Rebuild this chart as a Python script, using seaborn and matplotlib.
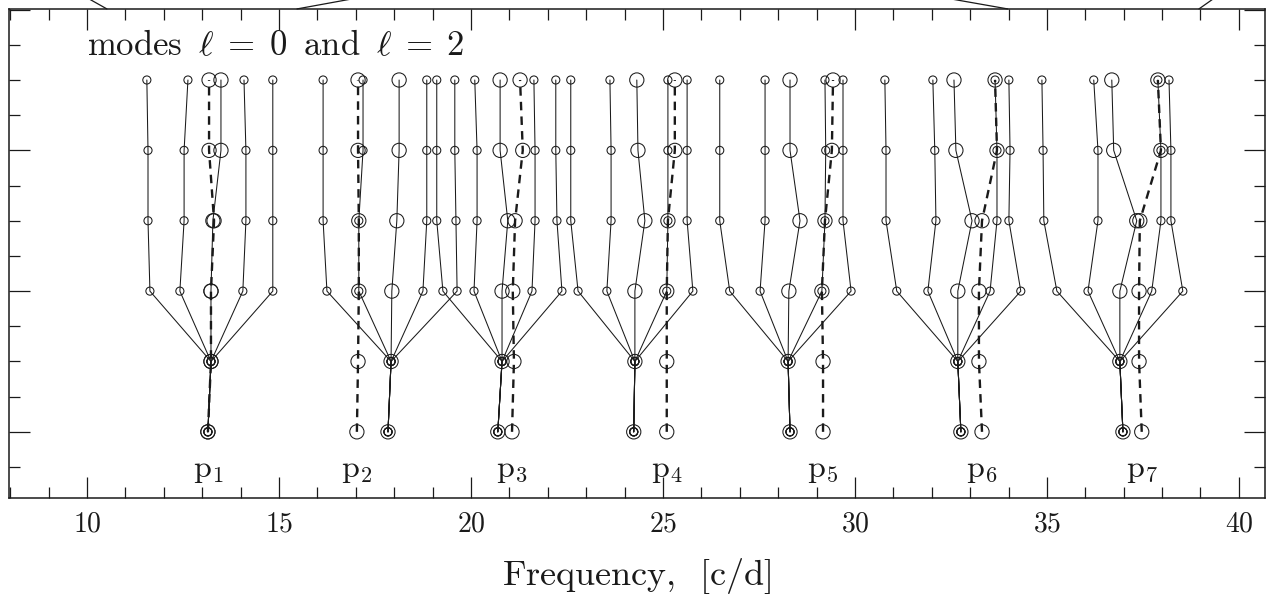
import matplotlib
matplotlib.use("Agg")
import matplotlib.pyplot as plt
from matplotlib.ticker import MultipleLocator, FuncFormatter, NullFormatter
import pandas as pd
import seaborn as sns

# Rotation levels: one row of the diagram per level
levels = [0, 10, 20, 30, 40, 50]

order_labels = [r"$\mathrm{p}_{%d}$" % n for n in range(1, 8)]

# l = 0 radial mode frequencies [c/d] at each level, one list per radial order
l0_freq = [
    [13.15, 13.23, 13.23, 13.31, 13.18, 13.18],
    [17.03, 17.06, 17.08, 17.08, 17.06, 17.06],
    [21.07, 21.12, 21.09, 21.15, 21.35, 21.28],
    [25.10, 25.10, 25.10, 25.13, 25.31, 25.31],
    [29.17, 29.17, 29.14, 29.22, 29.40, 29.43],
    [33.31, 33.23, 33.23, 33.31, 33.70, 33.65],
    [37.47, 37.40, 37.40, 37.42, 37.97, 37.89],
]

# l = 2 multiplet while still degenerate (first two levels)
l2_unsplit = [
    [13.15, 13.23],
    [17.84, 17.92],
    [20.70, 20.81],
    [24.24, 24.27],
    [28.31, 28.26],
    [32.76, 32.68],
    [36.98, 36.90],
]

# split l = 2 components at the four upper levels
l2_m_minus2 = [
    [11.64, 11.59, 11.59, 11.56],
    [16.25, 16.15, 16.15, 16.15],
    [19.27, 19.11, 19.11, 19.11],
    [22.79, 22.60, 22.60, 22.60],
    [26.74, 26.48, 26.48, 26.48],
    [31.09, 30.81, 30.81, 30.78],
    [35.26, 34.92, 34.90, 34.87],
]
l2_m_minus1 = [
    [12.42, 12.53, 12.53, 12.63],
    [17.08, 17.08, 17.19, 17.19],
    [20.08, 20.16, 20.16, 20.10],
    [23.54, 23.65, 23.65, 23.62],
    [27.53, 27.66, 27.66, 27.66],
    [31.90, 32.11, 32.08, 32.03],
    [36.07, 36.33, 36.33, 36.22],
]
l2_m_zero = [
    [13.23, 13.28, 13.49, 13.49],
    [17.94, 18.07, 18.13, 18.13],
    [20.81, 20.96, 20.76, 20.76],
    [24.27, 24.53, 24.35, 24.32],
    [28.28, 28.57, 28.31, 28.31],
    [32.68, 33.05, 32.63, 32.58],
    [36.90, 37.34, 36.74, 36.69],
]
l2_m_plus1 = [
    [14.06, 14.14, 14.14, 14.09],
    [18.75, 18.85, 18.85, 18.85],
    [21.59, 21.67, 21.67, 21.64],
    [25.10, 25.13, 25.13, 25.13],
    [29.14, 29.22, 29.24, 29.22],
    [33.52, 33.70, 33.70, 33.65],
    [37.73, 37.97, 37.97, 37.89],
]
l2_m_plus2 = [
    [14.84, 14.84, 14.84, 14.84],
    [19.64, 19.61, 19.58, 19.58],
    [22.37, 22.24, 22.21, 22.21],
    [25.78, 25.63, 25.63, 25.63],
    [29.90, 29.69, 29.69, 29.69],
    [34.32, 34.01, 34.04, 34.01],
    [38.54, 38.23, 38.23, 38.18],
]
m_values = [-2, -1, 0, 1, 2]
l2_components = [l2_m_minus2, l2_m_minus1, l2_m_zero, l2_m_plus1, l2_m_plus2]

# tracks of the panel above, which cross into this figure's top margin
upper_panel_tracks = [
    ([10.03, 10.52], [61.6, 60.1]),
    ([15.47, 16.98], [60.1, 61.6]),
    ([32.42, 33.98], [61.6, 60.1]),
    ([38.96, 39.35], [60.1, 61.6]),
]

# ---- long-form table -------------------------------------------------------
rows = []
for k in range(len(l0_freq)):
    for lev, f in zip(levels, l0_freq[k]):
        rows.append(dict(order=k, track=f"l0-{k}", degree=0, m=0, level=lev, freq=f))
    for m, comp in zip(m_values, l2_components):
        for lev, f in zip(levels, l2_unsplit[k] + comp[k]):
            rows.append(dict(order=k, track=f"l2-{k}-{m}", degree=2, m=m, level=lev, freq=f))
df = pd.DataFrame(rows)

sns.set_theme(style="white")
plt.rcParams["mathtext.fontset"] = "cm"
plt.rcParams["font.family"] = ["DejaVu Serif"]

ink = "#1a1a1a"
W, H = 1266, 597
fig = plt.figure(figsize=(W / 100, H / 100), dpi=100)
ax = fig.add_axes([9 / W, 99 / H, 1256 / W, 489 / H])

l2 = df[df.degree == 2]
l0 = df[df.degree == 0]

sns.lineplot(data=l2, x="freq", y="level", units="track", estimator=None,
             sort=False, color=ink, lw=0.75, ax=ax, legend=False)
sns.lineplot(data=l0, x="freq", y="level", units="track", estimator=None,
             sort=False, color=ink, lw=1.7, linestyle=(0, (3.6, 2.6)),
             ax=ax, legend=False)

small = l2[l2.m != 0]
large = pd.concat([l2[l2.m == 0], l0])
sns.scatterplot(data=small, x="freq", y="level", marker="o", s=34,
                color=ink, facecolors="none", edgecolors=ink, linewidth=0.75,
                ax=ax, legend=False, zorder=4)
sns.scatterplot(data=large, x="freq", y="level", marker="o", s=105,
                color=ink, facecolors="none", edgecolors=ink, linewidth=0.75,
                ax=ax, legend=False, zorder=4)

for xs, ys in upper_panel_tracks:
    ax.plot(xs, ys, color=ink, lw=0.9, clip_on=False)

# radial-order labels under each l = 0 track
for k, lab in enumerate(order_labels):
    ax.text(l0_freq[k][0], -5.3, lab, ha="center", va="center", fontsize=23, color=ink)

ax.text(10.0, 53.6,
        r"$\mathrm{modes}\;\;\ell\;=\;0\;\;\mathrm{and}\;\;\ell\;=\;2$",
        ha="left", va="baseline", fontsize=25, color=ink)

ax.set_xlim(7.97, 40.68)
ax.set_ylim(-9.4, 60.09)

ax.xaxis.set_major_locator(MultipleLocator(5))
ax.xaxis.set_minor_locator(MultipleLocator(1))
ax.yaxis.set_major_locator(MultipleLocator(20))
ax.yaxis.set_minor_locator(MultipleLocator(5))
ax.xaxis.set_major_formatter(FuncFormatter(lambda v, p: f"${v:.0f}$"))
ax.yaxis.set_major_formatter(NullFormatter())
ax.tick_params(which="both", direction="in", top=True, right=True,
               bottom=True, left=True, color=ink, width=0.9)
ax.tick_params(which="major", length=15)
ax.tick_params(which="minor", length=8)
ax.tick_params(axis="x", labelsize=20, pad=9, labelcolor=ink)

for s in ax.spines.values():
    s.set_color(ink)
    s.set_linewidth(1.1)

ax.set_xlabel(r"$\mathrm{Frequency,\;\;[c/d]}$", fontsize=26, labelpad=13, color=ink)
ax.set_ylabel("")

fig.savefig("out.png", dpi=100)
